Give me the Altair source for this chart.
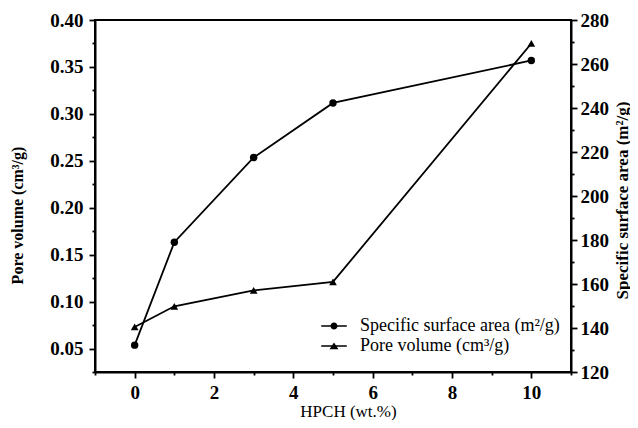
import altair as alt
import pandas as pd

hpch = [0, 1, 3, 5, 10]
pore_volume = [0.073, 0.095, 0.112, 0.121, 0.375]
surface_area = [132.2, 179.0, 217.5, 242.3, 261.6]

x_ticks = list(range(-1, 12))
left_ticks = [round(0.025 * i, 3) for i in range(1, 17)]
right_ticks = list(range(120, 281, 10))

sa_name = "Specific surface area (m²/g)"
pv_name = "Pore volume (cm³/g)"

df = pd.DataFrame({"HPCH": hpch, "pore": pore_volume, "sa": surface_area})

FONT = "Liberation Serif"

x_enc = alt.X(
    "HPCH:Q",
    scale=alt.Scale(domain=[-1, 11], nice=False, zero=False),
    axis=alt.Axis(
        title="HPCH (wt.%)",
        values=x_ticks,
        labelExpr="datum.value % 2 == 0 ? datum.value : ''",
        tickSize={"condition": {"test": "datum.value % 2 != 0", "value": 3}, "value": 6},
        labelPadding=5,
        titleFontWeight="normal",
        titleFontSize=17,
        titleX=253,
        titleY=39,
        titleBaseline="middle",
        grid=False,
    ),
)

y_left = alt.Y(
    "pore:Q",
    scale=alt.Scale(domain=[0.025, 0.40], nice=False, zero=False),
    axis=alt.Axis(
        title="Pore volume (cm³/g)",
        orient="left",
        values=left_ticks,
        labelExpr="round(datum.value*1000) % 50 == 0 ? format(datum.value, '.2f') : ''",
        tickSize={"condition": {"test": "round(datum.value*1000) % 50 != 0", "value": 3}, "value": 6},
        labelPadding=6,
        titleX=-78,
        titleY=195,
        titleAngle=-90,
        titleAlign="center",
        titleBaseline="middle",
        titleFontSize=16,
        grid=False,
    ),
)

y_right = alt.Y(
    "sa:Q",
    scale=alt.Scale(domain=[120, 280], nice=False, zero=False),
    axis=alt.Axis(
        title="Specific surface area (m²/g)",
        orient="right",
        values=right_ticks,
        labelExpr="datum.value % 20 == 0 ? datum.value : ''",
        tickSize={"condition": {"test": "datum.value % 20 != 0", "value": 3}, "value": 6},
        labelPadding=3,
        titleX=51,
        titleY=180,
        titleAngle=-90,
        titleAlign="center",
        titleBaseline="middle",
        titleFontSize=17,
        grid=False,
    ),
)

base = alt.Chart(df)

left = alt.layer(
    base.mark_line(color="black", strokeWidth=1.8).encode(x=x_enc, y=y_left),
    base.mark_point(shape="triangle-up", filled=True, color="black", size=60, opacity=1).encode(x=x_enc, y=y_left),
)

bar = "M-1.6,-0.1L1.6,-0.1L1.6,0.1L-1.6,0.1Z"
circle_path = bar + "M0.44,0A0.44,0.44,0,1,1,-0.44,0A0.44,0.44,0,1,1,0.44,0Z"
tri_path = bar + "M0,-0.45L0.56,0.4L-0.56,0.4Z"

legend_layer = base.transform_calculate(series=f"'{sa_name}'").mark_point(
    opacity=0, filled=True, color="black"
).encode(
    x=x_enc,
    y=y_right,
    shape=alt.Shape(
        "series:N",
        scale=alt.Scale(domain=[sa_name, pv_name], range=[circle_path, tri_path]),
        legend=alt.Legend(
            title=None,
            orient="none",
            legendX=230,
            legendY=297,
            padding=0,
            labelFont=FONT,
            labelFontSize=18,
            labelFontWeight="normal",
            labelColor="black",
            labelOffset=17,
            labelLimit=0,
            symbolSize=256,
            symbolFillColor="black",
            symbolStrokeWidth=0,
            symbolOpacity=1,
            rowPadding=2,
        ),
    ),
)

right = alt.layer(
    base.mark_line(color="black", strokeWidth=1.8).encode(x=x_enc, y=y_right),
    base.mark_point(shape="circle", filled=True, color="black", size=55, opacity=1).encode(x=x_enc, y=y_right),
    legend_layer,
)

chart = (
    alt.layer(left, right)
    .resolve_scale(y="independent")
    .properties(
        width=476,
        height=352,
        autosize=alt.AutoSizeParams(type="none"),
        padding={"left": 87, "top": 12, "right": 59, "bottom": 48},
        background="white",
    )
    .configure_view(stroke="black", strokeWidth=2)
    .configure_axis(
        domainColor="black",
        domainWidth=2,
        tickColor="black",
        tickWidth=1.8,
        labelFont=FONT,
        labelFontSize=19,
        labelFontWeight="bold",
        labelColor="black",
        titleFont=FONT,
        titleFontWeight="bold",
        titleColor="black",
    )
)

chart.save("out.html", embed_options={"renderer": "svg", "actions": False})
